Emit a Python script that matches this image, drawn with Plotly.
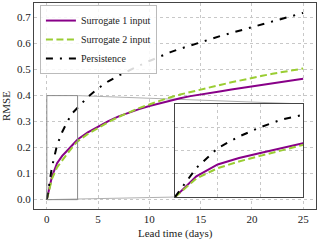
import plotly.graph_objects as go

# ---- data ----
lead_days = [0, 0.5, 1, 1.5, 2, 2.5, 3, 4, 5, 6, 7, 8, 9, 10, 11, 12, 13, 14, 15,
             16, 17, 18, 19, 20, 21, 22, 23, 24, 25]
surrogate1 = [0, 0.089, 0.140, 0.168, 0.189, 0.211, 0.231, 0.259, 0.281, 0.302, 0.320,
              0.335, 0.348, 0.360, 0.371, 0.381, 0.390, 0.398, 0.405, 0.411, 0.417,
              0.423, 0.429, 0.435, 0.441, 0.447, 0.453, 0.459, 0.465]
surrogate2 = [0, 0.080, 0.124, 0.153, 0.177, 0.202, 0.224, 0.253, 0.276, 0.298, 0.318,
              0.336, 0.352, 0.366, 0.380, 0.393, 0.404, 0.414, 0.424, 0.433, 0.442,
              0.451, 0.460, 0.469, 0.476, 0.484, 0.491, 0.498, 0.504]
persistence = [0, 0.125, 0.210, 0.260, 0.300, 0.333, 0.353, 0.395, 0.428, 0.455, 0.477,
               0.497, 0.515, 0.533, 0.550, 0.566, 0.580, 0.593, 0.606, 0.618, 0.630,
               0.641, 0.652, 0.664, 0.674, 0.685, 0.695, 0.706, 0.718]
series_names = ["Surrogate 1 input", "Surrogate 2 input", "Persistence"]
x_ticks = [0, 5, 10, 15, 20, 25]
y_ticks = [0.0, 0.1, 0.2, 0.3, 0.4, 0.5, 0.6, 0.7]
zoom_x = [0, 3]
zoom_y = [0, 0.4]
x_title = "Lead time (days)"
y_title = "RMSE"

PURPLE = "#880088"
GREEN = "#9ACD32"
FONT = "Liberation Serif"
SPINE = "#444444"
GRID = "#c8c8c8"
TEXT = "#222222"

XR = [-1.25, 26.25]
YR = [-0.036, 0.756]
inset_dom_x = [0.50, 0.954]
inset_dom_y = [0.058, 0.51]

styles = [dict(color=PURPLE, width=2, dash="solid"),
          dict(color=GREEN, width=2, dash="7px,3.5px"),
          dict(color="black", width=2, dash="7px,7px,2px,7px")]
data = [surrogate1, surrogate2, persistence]

fig = go.Figure()
for name, ys, st in zip(series_names, data, styles):
    fig.add_trace(go.Scatter(x=lead_days, y=ys, mode="lines", name=name, line=st,
                             xaxis="x", yaxis="y"))
for name, ys, st in zip(series_names, data, styles):
    fig.add_trace(go.Scatter(x=lead_days, y=ys, mode="lines", name=name, line=st,
                             xaxis="x2", yaxis="y2", showlegend=False))

axis_common = dict(showline=True, linecolor=SPINE, linewidth=1.2, mirror=True,
                   showgrid=True, gridcolor=GRID, griddash="dot", gridwidth=0.8,
                   zeroline=False, ticks="", automargin=False)

fig.update_layout(
    width=320, height=241,
    margin=dict(l=34, r=4, t=3, b=32),
    paper_bgcolor="white", plot_bgcolor="white",
    font=dict(family=FONT, size=11, color=TEXT),
    xaxis=dict(range=XR, tickvals=x_ticks, domain=[0, 1], **axis_common),
    yaxis=dict(range=YR, tickvals=y_ticks, tickformat=".1f", domain=[0, 1],
               **axis_common),
    xaxis2=dict(range=zoom_x, domain=inset_dom_x, anchor="y2", dtick=1,
                showticklabels=False, **axis_common),
    yaxis2=dict(range=zoom_y, domain=inset_dom_y, anchor="x2", dtick=0.1,
                showticklabels=False, **axis_common),
    legend=dict(x=0.021, y=0.99, xanchor="left", yanchor="top",
                bgcolor="rgba(255,255,255,0.85)", bordercolor="#bbbbbb", borderwidth=1,
                font=dict(size=10, family=FONT, color=TEXT),
                tracegroupgap=0, itemwidth=30),
    showlegend=True,
)

fig.add_annotation(text=x_title, xref="paper", yref="paper", x=0.5, y=0,
                   yshift=-16, xanchor="center", yanchor="top", showarrow=False,
                   font=dict(size=11, family=FONT, color=TEXT))
fig.add_annotation(text=y_title, xref="paper", yref="paper", x=0, y=0.5,
                   xshift=-20, xanchor="right", yanchor="middle", textangle=-90,
                   showarrow=False, font=dict(size=11, family=FONT, color=TEXT))

# zoom rectangle
fig.add_shape(type="rect", xref="x", yref="y", x0=zoom_x[0], x1=zoom_x[1],
              y0=zoom_y[0], y1=zoom_y[1], line=dict(color="#8a8a8a", width=1),
              layer="above")

# connector lines (mark_inset loc1=1, loc2=3)
def to_data_x(f):
    return XR[0] + f * (XR[1] - XR[0])

def to_data_y(f):
    return YR[0] + f * (YR[1] - YR[0])

fig.add_shape(type="line", xref="x", yref="y",
              x0=zoom_x[1], y0=zoom_y[1],
              x1=to_data_x(inset_dom_x[1]), y1=to_data_y(inset_dom_y[1]),
              line=dict(color="#b0b0b0", width=1), layer="below")
fig.add_shape(type="line", xref="x", yref="y",
              x0=zoom_x[0], y0=zoom_y[0],
              x1=to_data_x(inset_dom_x[0]), y1=to_data_y(inset_dom_y[0]),
              line=dict(color="#b0b0b0", width=1), layer="below")

fig.write_html("out.html", config={"displayModeBar": False},
               post_script="document.body.style.margin='0';document.body.style.padding='0';")
